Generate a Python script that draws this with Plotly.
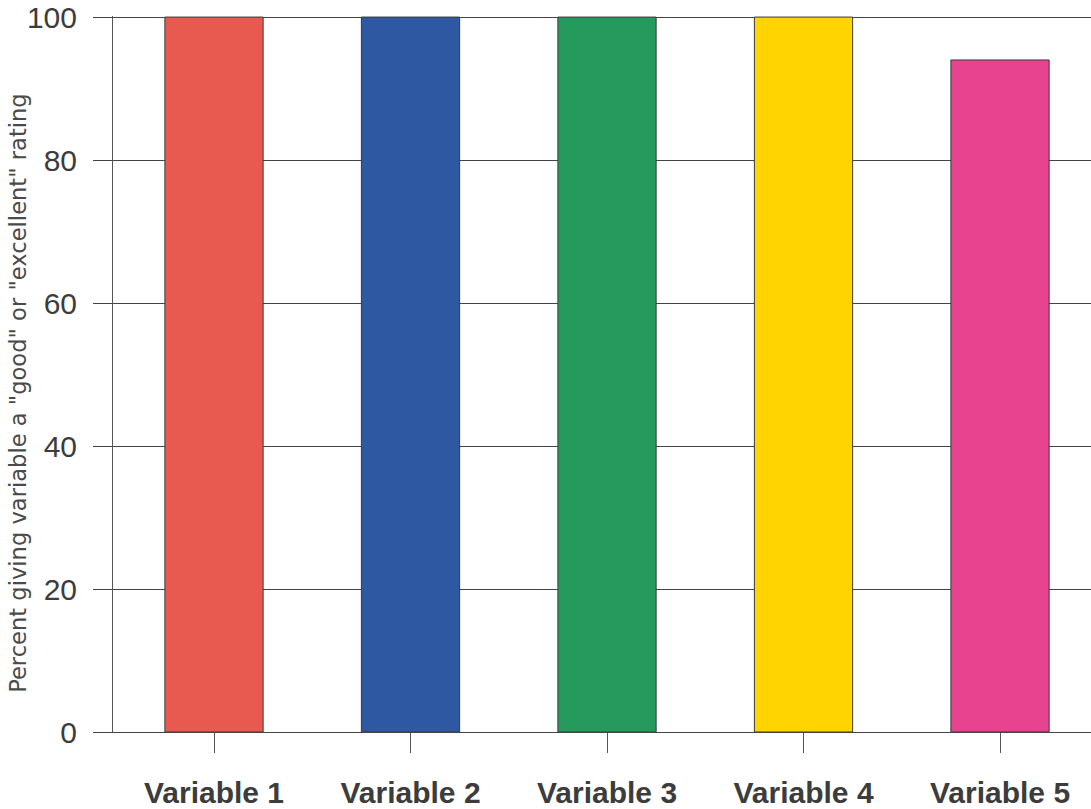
import plotly.graph_objects as go

# Survey results: share of respondents rating each variable "good" or "excellent"
categories = ["Variable 1", "Variable 2", "Variable 3", "Variable 4", "Variable 5"]
percent_good = [100, 100, 100, 100, 94]
bar_colors = ["#E85A4F", "#2F58A3", "#259A5C", "#FFD400", "#E8438E"]
y_ticks = [0, 20, 40, 60, 80, 100]

fig = go.Figure(
    go.Bar(
        x=list(range(len(categories))),
        y=percent_good,
        width=0.5,
        marker=dict(color=bar_colors, line=dict(color="#3a3a3a", width=1)),
        hoverinfo="skip",
    )
)

fig.update_layout(
    width=1091,
    height=809,
    margin=dict(l=113, r=0, t=16, b=71),
    paper_bgcolor="white",
    plot_bgcolor="white",
    showlegend=False,
    font=dict(family="Arial, Liberation Sans, sans-serif", color="#3c3c3c"),
)

fig.update_xaxes(
    range=[-0.514, 4.463],
    tickmode="array",
    tickvals=list(range(len(categories))),
    ticktext=categories,
    tickfont=dict(size=30, weight="bold", color="#3c3c3c"),
    ticks="outside",
    ticklen=20,
    tickwidth=1,
    tickcolor="#555555",
    ticklabelstandoff=14,
    showgrid=False,
    showline=True,
    linecolor="#444444",
    linewidth=1,
    zeroline=False,
)

fig.update_yaxes(
    range=[0, 100.15],
    tickmode="array",
    tickvals=y_ticks,
    tickfont=dict(size=30, color="#3c3c3c"),
    ticks="outside",
    ticklen=19,
    tickwidth=1,
    tickcolor="#444444",
    ticklabelstandoff=10,
    showgrid=True,
    gridcolor="#444444",
    gridwidth=1,
    showline=True,
    linecolor="#555555",
    linewidth=1,
    zeroline=False,
)

fig.add_annotation(
    text='Percent giving variable a "good" or "excellent" rating',
    xref="paper",
    yref="paper",
    x=-0.0971,
    y=0.4737,
    xanchor="center",
    yanchor="middle",
    textangle=-90,
    showarrow=False,
    font=dict(family="DejaVu Sans, sans-serif", size=22.6, color="#4a4a4a"),
)

fig.write_html("out.html")
